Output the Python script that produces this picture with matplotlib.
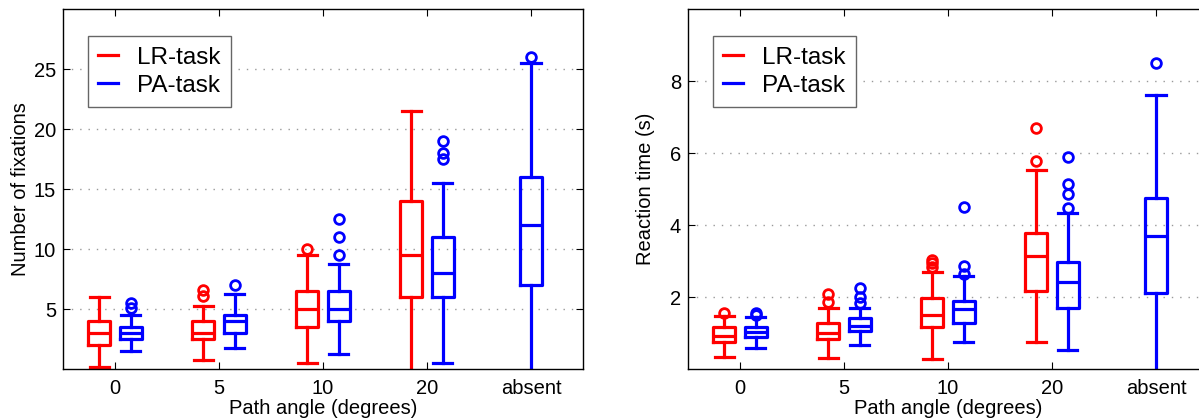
import numpy as np
import matplotlib.pyplot as plt

plt.rcParams['font.family'] = ['Liberation Sans', 'DejaVu Sans']

angles = ['0', '5', '10', '20', 'absent']
red, blue = '#ff0000', '#0000ff'

# Number of fixations - LR-task (no "absent" condition)
fix_lr_lo = [0.2, 0.8, 0.5, -0.5]
fix_lr_q1 = [2.0, 2.5, 3.5, 6.0]
fix_lr_med = [3.0, 3.0, 5.0, 9.5]
fix_lr_q3 = [4.0, 4.0, 6.5, 14.0]
fix_lr_hi = [6.0, 5.3, 9.5, 21.5]
fix_lr_out = [[], [6.1, 6.6], [10.0], []]

# Number of fixations - PA-task
fix_pa_lo = [1.5, 1.8, 1.3, 0.55, -0.5]
fix_pa_q1 = [2.5, 3.0, 4.0, 6.0, 7.0]
fix_pa_med = [3.0, 4.0, 5.0, 8.0, 12.0]
fix_pa_q3 = [3.5, 4.5, 6.5, 11.0, 16.0]
fix_pa_hi = [4.5, 6.25, 8.75, 15.5, 25.5]
fix_pa_out = [[5.1, 5.5], [7.0], [9.5, 11.0, 12.5], [17.5, 18.0, 19.0], [26.0]]

# Reaction time (s) - LR-task
rt_lr_lo = [0.33, 0.32, 0.29, 0.77]
rt_lr_q1 = [0.75, 0.84, 1.17, 2.17]
rt_lr_med = [0.92, 1.0, 1.51, 3.16]
rt_lr_q3 = [1.17, 1.29, 1.99, 3.78]
rt_lr_hi = [1.48, 1.69, 2.69, 5.55]
rt_lr_out = [[1.56], [1.88, 2.1], [2.85, 2.94, 3.05], [5.79, 6.69]]

# Reaction time (s) - PA-task
rt_pa_lo = [0.58, 0.68, 0.75, 0.54, -0.2]
rt_pa_q1 = [0.89, 1.07, 1.28, 1.71, 2.11]
rt_pa_med = [1.03, 1.2, 1.67, 2.43, 3.7]
rt_pa_q3 = [1.18, 1.42, 1.9, 2.97, 4.75]
rt_pa_hi = [1.44, 1.69, 2.58, 4.33, 7.63]
rt_pa_out = [[1.52, 1.57], [1.83, 2.02, 2.25], [2.66, 2.88, 4.5], [4.47, 4.86, 5.14, 5.91], [8.52]]


def make_stats(lo, q1, med, q3, hi, out):
    return [dict(whislo=a, q1=b, med=c, q3=d, whishi=e, fliers=f)
            for a, b, c, d, e, f in zip(lo, q1, med, q3, hi, out)]


def draw(ax, stats, pos, color):
    lp = dict(color=color, linewidth=2.3)
    ax.bxp(stats, positions=pos, widths=0.21, capwidths=0.19,
           boxprops=lp, whiskerprops=lp, capprops=lp, medianprops=lp,
           flierprops=dict(marker='o', markerfacecolor='none', markeredgecolor=color,
                           markersize=7, markeredgewidth=2),
           manage_ticks=False)


def style(ax, ylabel, ylim, yticks, labelpad):
    ax.set_xlim(-0.5, 4.5)
    ax.set_ylim(*ylim)
    ax.set_xticks(range(len(angles)))
    ax.set_xticklabels(angles)
    ax.set_yticks(yticks)
    ax.tick_params(direction='in', top=True, right=True, length=5, width=0.8,
                   labelsize=14.5)
    ax.tick_params(axis='x', pad=7)
    ax.tick_params(axis='y', pad=5)
    ax.yaxis.grid(True, linestyle=(0, (1, 5)), color='0.6', linewidth=1.0)
    ax.set_axisbelow(True)
    ax.set_xlabel('Path angle (degrees)', fontsize=14.5, labelpad=1)
    ax.set_ylabel(ylabel, fontsize=14.5, labelpad=labelpad)
    for s in ax.spines.values():
        s.set_linewidth(1.0)
    ax.plot([], [], color=red, lw=2.3, label='LR-task')
    ax.plot([], [], color=blue, lw=2.3, label='PA-task')
    leg = ax.legend(loc='upper left', bbox_to_anchor=(0.048, 0.925), borderaxespad=0,
                    fontsize=17.5, handlelength=0.8, handletextpad=0.8,
                    labelspacing=0.25, borderpad=0.42, fancybox=False, framealpha=1)
    leg.get_frame().set_edgecolor('0.4')
    leg.get_frame().set_linewidth(1.0)


fig = plt.figure(figsize=(11.99, 4.19), dpi=100)
W, H = 1199, 419
ax1 = fig.add_axes([63 / W, 1 - 369.3 / H, 520 / W, 360 / H])
ax2 = fig.add_axes([688 / W, 1 - 369.3 / H, 520 / W, 360 / H])

x = np.arange(4)
draw(ax1, make_stats(fix_lr_lo, fix_lr_q1, fix_lr_med, fix_lr_q3, fix_lr_hi, fix_lr_out), x - 0.15, red)
draw(ax1, make_stats(fix_pa_lo, fix_pa_q1, fix_pa_med, fix_pa_q3, fix_pa_hi, fix_pa_out),
     list(x + 0.15) + [4], blue)
style(ax1, 'Number of fixations', (0, 30), [5, 10, 15, 20, 25], 3)

draw(ax2, make_stats(rt_lr_lo, rt_lr_q1, rt_lr_med, rt_lr_q3, rt_lr_hi, rt_lr_out), x - 0.15, red)
draw(ax2, make_stats(rt_pa_lo, rt_pa_q1, rt_pa_med, rt_pa_q3, rt_pa_hi, rt_pa_out),
     list(x + 0.15) + [4], blue)
style(ax2, 'Reaction time (s)', (0, 10), [2, 4, 6, 8], 11)

fig.savefig('out.png', dpi=100)
